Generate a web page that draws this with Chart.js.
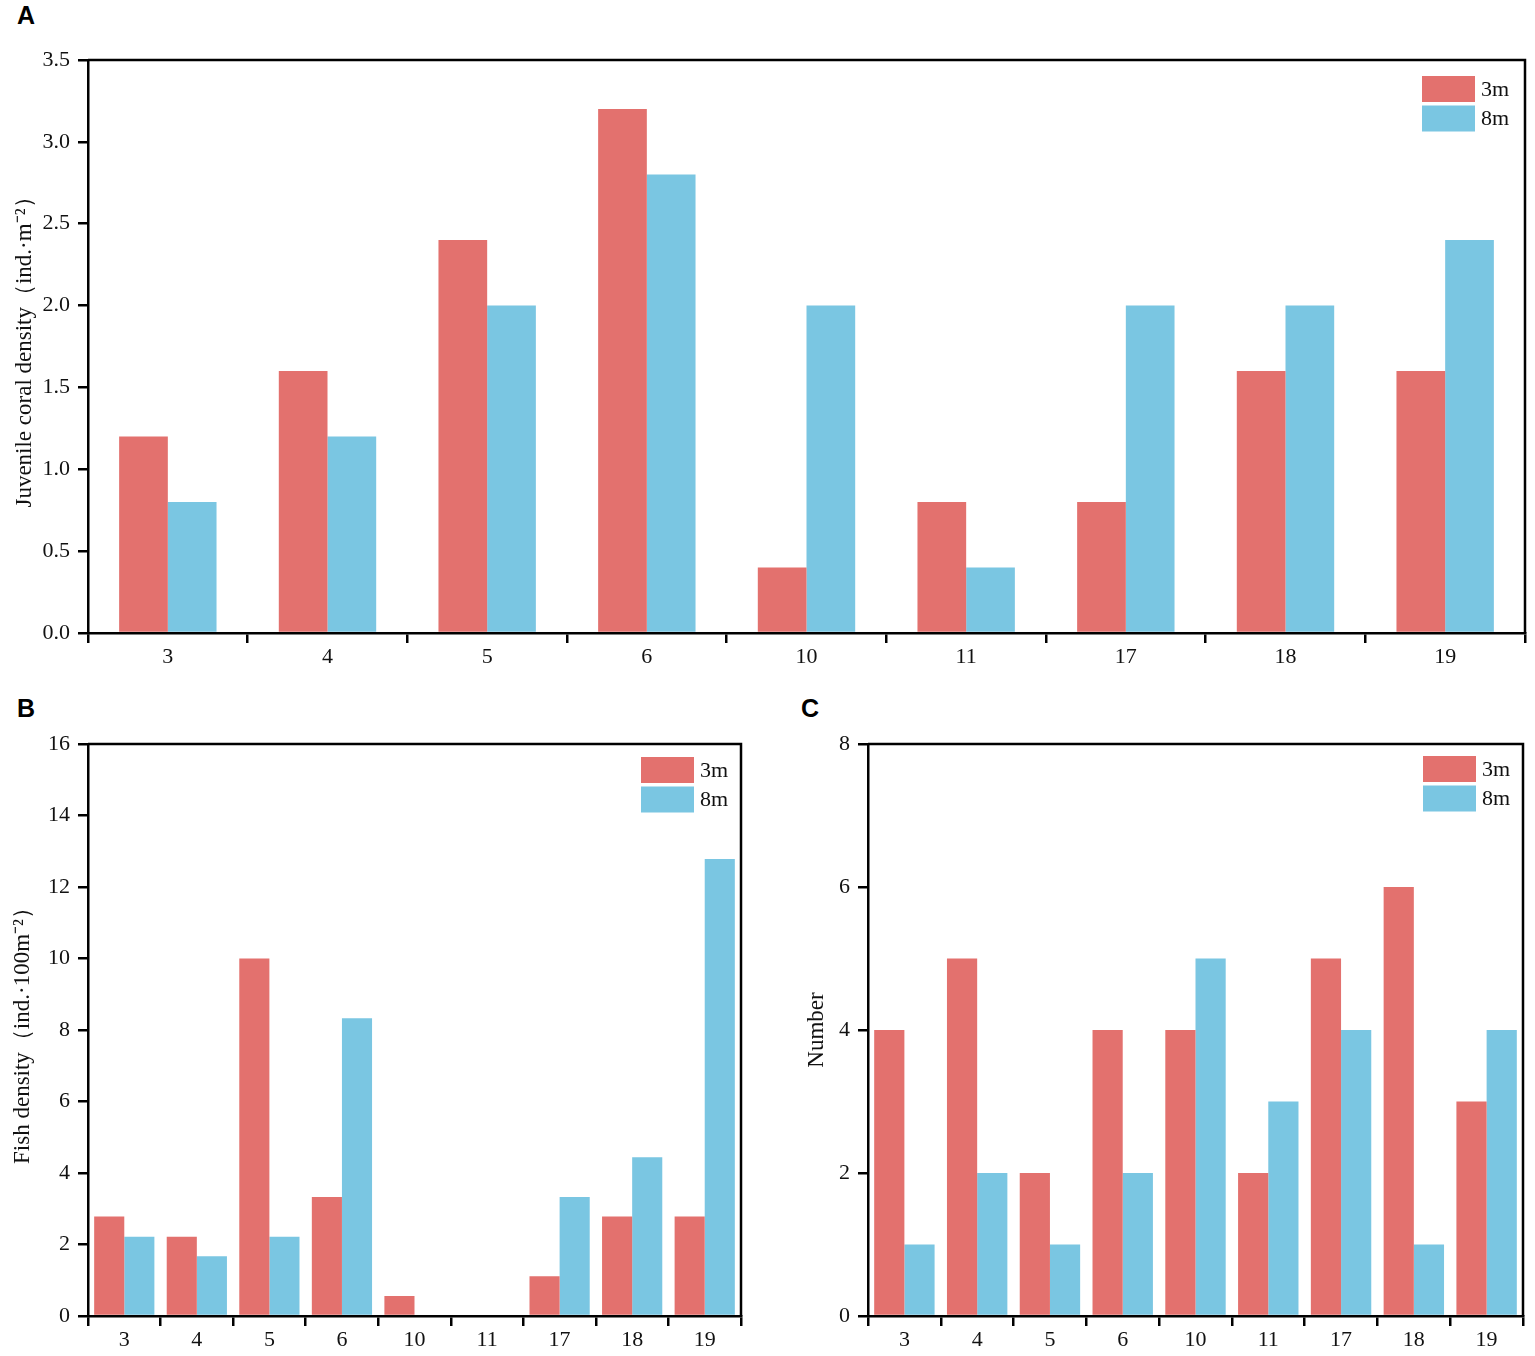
<!DOCTYPE html>
<html>
<head>
<meta charset="utf-8">
<script src="https://cdn.jsdelivr.net/npm/chart.js@4/dist/chart.umd.min.js"></script>
<style>
  body { margin: 0; background: #fff; }
  #page { position: relative; width: 1535px; height: 1356px; }
  .box { position: absolute; }
  .tag { position: absolute; font: bold 25px "Liberation Sans", Arial, sans-serif; color: #000; }
</style>
</head>
<body>
<div id="page">
  <div class="tag" style="left:17px;top:1px;">A</div>
  <div class="tag" style="left:17px;top:694px;">B</div>
  <div class="tag" style="left:801px;top:694px;">C</div>
  <div class="box" style="left:0;top:0;width:1535px;height:680px;"><canvas id="chartA"></canvas></div>
  <div class="box" style="left:0;top:700px;width:760px;height:656px;"><canvas id="chartB"></canvas></div>
  <div class="box" style="left:780px;top:700px;width:755px;height:656px;"><canvas id="chartC"></canvas></div>
</div>
<script>
// sites (x categories), same for all three panels
const SITES = ["3", "4", "5", "6", "10", "11", "17", "18", "19"];
const DEPTHS = ["3m", "8m"];

// A : juvenile coral density
const coral_3m = [1.2, 1.6, 2.4, 3.2, 0.4, 0.8, 0.8, 1.6, 1.6];
const coral_8m = [0.8, 1.2, 2.0, 2.8, 2.0, 0.4, 2.0, 2.0, 2.4];

// B : fish density
const fish_3m = [2.78, 2.22, 10.0, 3.33, 0.56, 0, 1.11, 2.78, 2.78];
const fish_8m = [2.22, 1.67, 2.22, 8.33, 0, 0, 3.33, 4.44, 12.78];

// C : number
const number_3m = [4, 5, 2, 4, 4, 2, 5, 6, 3];
const number_8m = [1, 2, 1, 2, 5, 3, 4, 1, 4];

const RED = "#E3716E";
const BLUE = "#7AC6E2";
const SERIF = "'Liberation Serif', 'Times New Roman', serif";

// draws the top + right frame lines
const framePlugin = {
  id: 'frame',
  afterDraw(chart) {
    const a = chart.chartArea, ctx = chart.ctx;
    ctx.save();
    ctx.strokeStyle = '#000';
    ctx.lineWidth = 2.5;
    ctx.beginPath();
    ctx.moveTo(a.left, a.top);
    ctx.lineTo(a.right, a.top);
    ctx.lineTo(a.right, a.bottom);
    ctx.stroke();
    ctx.restore();
  }
};

// legend boxes inside the plot, top right
const boxLegend = {
  id: 'boxLegend',
  afterDraw(chart, args, opts) {
    const a = chart.chartArea, ctx = chart.ctx;
    ctx.save();
    ctx.font = "22px " + SERIF;
    ctx.textBaseline = 'middle';
    ctx.textAlign = 'left';
    chart.data.datasets.forEach((ds, i) => {
      const x = a.right - opts.right - 53;
      const y = a.top + opts.top + i * 29.5;
      ctx.fillStyle = ds.backgroundColor;
      ctx.fillRect(x, y, 53, 26);
      ctx.fillStyle = '#111';
      ctx.fillText(ds.label, x + 59, y + 14);
    });
    ctx.restore();
  }
};

function makeChart(canvas_id, vals3, vals8, cfg) {
  return new Chart(document.getElementById(canvas_id).getContext('2d'), {
    type: 'bar',
    data: {
      labels: SITES,
      datasets: [
        { label: DEPTHS[0], data: vals3, backgroundColor: RED, categoryPercentage: cfg.catPct, barPercentage: 1.0 },
        { label: DEPTHS[1], data: vals8, backgroundColor: BLUE, categoryPercentage: cfg.catPct, barPercentage: 1.0 }
      ]
    },
    options: {
      responsive: true,
      maintainAspectRatio: false,
      animation: false,
      layout: { padding: cfg.padding },
      plugins: {
        legend: { display: false },
        tooltip: { enabled: false },
        boxLegend: cfg.legend
      },
      scales: {
        x: {
          grid: { drawOnChartArea: false, drawTicks: true, tickLength: 10, color: '#000', lineWidth: 2.5, offset: true },
          border: { color: '#000', width: 2.5 },
          ticks: { color: '#111', font: { family: SERIF, size: 22 }, padding: 1 },
          afterFit: (s) => { s.height = cfg.xHeight; }
        },
        y: {
          min: 0,
          max: cfg.max,
          grid: { drawOnChartArea: false, drawTicks: true, tickLength: 10, color: '#000', lineWidth: 2.5 },
          border: { color: '#000', width: 2.5 },
          ticks: {
            stepSize: cfg.step,
            color: '#111',
            font: { family: SERIF, size: 22 },
            padding: 8,
            callback: cfg.fmt
          },
          title: {
            display: true,
            text: cfg.title,
            color: '#111',
            font: { family: SERIF, size: 23 },
            padding: { top: cfg.titlePad, bottom: 0 }
          },
          afterFit: (s) => { s.width = 88; }
        }
      }
    },
    plugins: [framePlugin, boxLegend]
  });
}

makeChart('chartA', coral_3m, coral_8m, {
  catPct: 0.61, max: 3.5, step: 0.5,
  fmt: (v) => v.toFixed(1),
  title: "Juvenile coral density（ind.·m⁻²）",
  titlePad: 11,
  padding: { top: 60, right: 10, left: 0, bottom: 0 },
  xHeight: 47,
  legend: { right: 50, top: 16 }
});

makeChart('chartB', fish_3m, fish_8m, {
  catPct: 0.83, max: 16, step: 2,
  fmt: (v) => v,
  title: "Fish density（ind.·100m⁻²）",
  titlePad: 9,
  padding: { top: 44, right: 19, left: 0, bottom: 0 },
  xHeight: 40,
  legend: { right: 47, top: 13 }
});

makeChart('chartC', number_3m, number_8m, {
  catPct: 0.83, max: 8, step: 2,
  fmt: (v) => v,
  title: "Number",
  titlePad: 23,
  padding: { top: 44, right: 12, left: 0, bottom: 0 },
  xHeight: 40,
  legend: { right: 47, top: 12 }
});
</script>
</body>
</html>
